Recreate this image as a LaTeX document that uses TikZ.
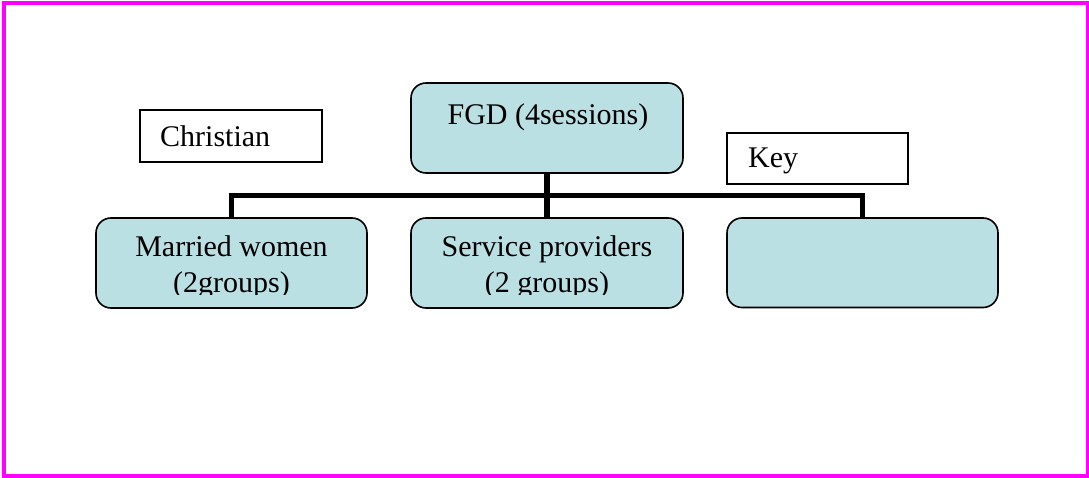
\documentclass[tikz,border=0pt]{standalone}
\usepackage{fontspec}
\setmainfont{Liberation Serif}
\definecolor{boxfill}{RGB}{187,224,227}
\definecolor{frame}{RGB}{255,0,255}
\tikzset{
  bluebox/.style={draw=black, line width=1.6pt, fill=boxfill, rounded corners=15pt},
  plainbox/.style={draw=black, line width=1.3pt, fill=white},
  lbl/.style={font=\fontsize{30}{35}\selectfont, anchor=base, inner sep=0pt},
  link/.style={line width=5.5pt, draw=black, line join=miter}
}
\begin{document}
\begin{tikzpicture}[x=1pt,y=-1pt]
\useasboundingbox (0,0) rectangle (1089,478);
\fill[white] (0,0) rectangle (1089,478);
\draw[frame, line width=4pt] (4,3) rectangle (1088,475.5);

% boxes
\path[bluebox] (411,83) rectangle (683,173);
\node[inner sep=0pt, minimum width=272pt, minimum height=90pt] (fgd) at (547,128) {};
\path[bluebox] (96,218) rectangle (367,308);
\node[inner sep=0pt, minimum width=271pt, minimum height=90pt] (mw) at (231.5,263) {};
\path[bluebox] (411,218) rectangle (683,308);
\node[inner sep=0pt, minimum width=272pt, minimum height=90pt] (sp) at (547,263) {};
\path[bluebox] (727,218) rectangle (998,307.5);
\node[inner sep=0pt, minimum width=271pt, minimum height=89.5pt] (em) at (862.5,262.75) {};

\node[plainbox, inner sep=0pt, minimum width=182pt, minimum height=52pt] (chr) at (231,136) {};
\node[plainbox, inner sep=0pt, minimum width=181pt, minimum height=51pt] (key) at (817.5,158.5) {};

% connectors
\coordinate (j) at (547,195.5);
\draw[link] (fgd.south) -- (sp.north);
\draw[link] (mw.north) |- (j) -| (em.north);

% texts
\node[lbl] at (548,125) {FGD (4sessions)};
\node[lbl, anchor=base west] at (160,147) {Christian};
\node[lbl, anchor=base west] at (748,168) {Key};
\node[lbl] at (231.5,257) {Married women};
\node[lbl] at (547,257) {Service providers};
\begin{scope}
\clip (90,260) rectangle (700,294);
\node[lbl] at (231.5,292) {(2groups)};
\node[lbl] at (547,292) {(2 groups)};
\end{scope}
\end{tikzpicture}
\end{document}
